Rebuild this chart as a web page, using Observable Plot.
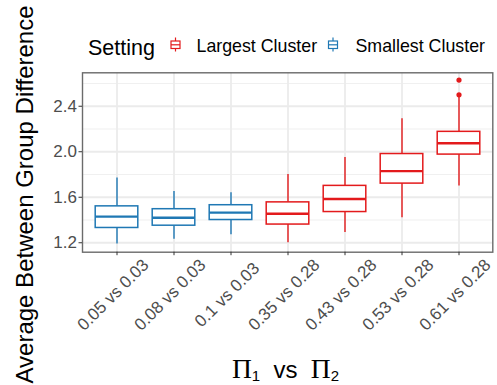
<!DOCTYPE html>
<html>
<head>
<meta charset="utf-8">
<script src="https://cdn.jsdelivr.net/npm/d3@7"></script>
<script src="https://cdn.jsdelivr.net/npm/@observablehq/plot@0.6"></script>
<style>
  html, body { margin: 0; padding: 0; background: white; }
  body { width: 497px; height: 385px; overflow: hidden; font-family: "Liberation Sans", Arial, sans-serif; }
  .block { display: block; }
  #chart { position: relative; z-index: 1; }
</style>
</head>
<body>
<div id="legend"></div>
<div id="chart"></div>
<div id="xtitle"></div>
<script>
// Comparisons of cluster proportions (Π1 vs Π2) and which cluster setting each belongs to
const comparisons = ["0.05 vs 0.03", "0.08 vs 0.03", "0.1 vs 0.03", "0.35 vs 0.28", "0.43 vs 0.28", "0.53 vs 0.28", "0.61 vs 0.28"];
const settings = ["Smallest Cluster", "Smallest Cluster", "Smallest Cluster", "Largest Cluster", "Largest Cluster", "Largest Cluster", "Largest Cluster"];

// Box-plot summaries of the average between-group difference
const lowerWhisker = [1.19, 1.23, 1.27, 1.20, 1.29, 1.42, 1.70];
const q1 = [1.33, 1.35, 1.40, 1.36, 1.47, 1.72, 1.975];
const median = [1.43, 1.42, 1.465, 1.455, 1.585, 1.83, 2.075];
const q3 = [1.52, 1.495, 1.53, 1.555, 1.70, 1.98, 2.175];
const upperWhisker = [1.77, 1.65, 1.64, 1.80, 1.95, 2.29, 2.48];

// Points beyond the whiskers
const outlierComparisons = ["0.61 vs 0.28", "0.61 vs 0.28"];
const outlierValues = [2.50, 2.63];

// Axis ticks and grid
const yTicks = [1.2, 1.6, 2.0, 2.4];
const yMinor = [1.4, 1.8, 2.2, 2.6];

const settingOrder = ["Largest Cluster", "Smallest Cluster"];
const palette = ["#e31a1c", "#1f78b4"];

const boxes = comparisons.map((c, i) => ({
  comparison: c, setting: settings[i],
  lower: lowerWhisker[i], q1: q1[i], median: median[i], q3: q3[i], upper: upperWhisker[i]
}));
const outliers = outlierComparisons.map((c, i) => ({
  comparison: c, value: outlierValues[i],
  setting: settings[comparisons.indexOf(c)]
}));

const color = Plot.scale({color: {domain: settingOrder, range: palette}});
const font = "'Liberation Sans', Arial, sans-serif";

// Legend above the plot: title + box-glyph keys
(function legend() {
  const svg = d3.create("svg").attr("width", 497).attr("height", 60).attr("class", "block")
    .style("font-family", font);
  svg.append("text").attr("x", 88).attr("y", 54.5).attr("font-size", 21.5).attr("fill", "black").text("Setting");
  const keyX = [175.5, 333];
  const labelX = [196.5, 355.5];
  settingOrder.forEach((s, i) => {
    const g = svg.append("g").attr("stroke", color.apply(s)).attr("fill", "white").attr("stroke-width", 1.2);
    g.append("line").attr("x1", keyX[i]).attr("x2", keyX[i]).attr("y1", 37.5).attr("y2", 51.5);
    g.append("rect").attr("x", keyX[i] - 4.5).attr("y", 41).attr("width", 9).attr("height", 7.5);
    g.append("line").attr("x1", keyX[i] - 4.5).attr("x2", keyX[i] + 4.5).attr("y1", 44.8).attr("y2", 44.8);
    svg.append("text").attr("x", labelX[i]).attr("y", 51.8).attr("font-size", 17.8).attr("fill", "black").text(s);
  });
  document.getElementById("legend").append(svg.node());
})();

const yDomain = [1.117, 2.694];

const chart = Plot.plot({
  width: 497,
  height: 285,
  marginTop: 12.3,
  marginBottom: 93.3,
  marginLeft: 82,
  marginRight: 4.7,
  style: {fontFamily: font, overflow: "visible", background: "transparent"},
  x: {domain: comparisons, type: "band", paddingInner: 0, paddingOuter: 0.094, label: null},
  y: {domain: yDomain, label: null},
  color: {domain: settingOrder, range: palette},
  marks: [
    // panel background and grid
    Plot.frame({fill: "white"}),
    Plot.ruleY(yMinor, {stroke: "#f0f0f0", strokeWidth: 1.2}),
    Plot.ruleY(yTicks, {stroke: "#ebebeb", strokeWidth: 1.8}),
    Plot.ruleX(comparisons, {x: d => d, stroke: "#ebebeb", strokeWidth: 1.8}),
    // whiskers
    Plot.ruleX(boxes, {x: "comparison", y1: "lower", y2: "q1", stroke: "setting", strokeWidth: 1.4}),
    Plot.ruleX(boxes, {x: "comparison", y1: "q3", y2: "upper", stroke: "setting", strokeWidth: 1.4}),
    // boxes
    Plot.barY(boxes, {x: "comparison", y1: "q1", y2: "q3", fill: "white", stroke: "setting", strokeWidth: 1.5, insetLeft: 7.2, insetRight: 7.2}),
    // medians
    Plot.tickY(boxes, {x: "comparison", y: "median", stroke: "setting", strokeWidth: 2.4, insetLeft: 7.2, insetRight: 7.2}),
    // outliers
    Plot.dot(outliers, {x: "comparison", y: "value", fill: "setting", r: 2.6}),
    // panel border
    Plot.frame({stroke: "#6b6b6b", strokeWidth: 1.4}),
    // axes
    Plot.axisY({ticks: yTicks, tickFormat: d3.format(".1f"), tickSize: 3.5, tickPadding: 2, fontSize: 17, fill: "#4d4d4d", stroke: "#333", label: null}),
    Plot.axisX({tickSize: 3.5, tickFormat: () => "", stroke: "#333", label: null}),
    Plot.text(comparisons, {x: d => d, text: d => d, frameAnchor: "bottom", dy: 46.5, rotate: -45, textAnchor: "middle", fontSize: 17, fill: "#4d4d4d"}),
    // y-axis title
    Plot.text(["Average Between Group Difference"], {frameAnchor: "left", textAnchor: "middle", dx: -56.7, dy: 32, rotate: -90, fontSize: 24, fill: "black"})
  ]
});
document.getElementById("chart").append(chart);

// x-axis title below the plot: Π1 vs Π2
(function xTitle() {
  const svg = d3.create("svg").attr("width", 497).attr("height", 40).attr("class", "block")
    .style("font-family", font);
  const t = svg.append("text").attr("x", 285.5).attr("y", 33.3).attr("text-anchor", "middle").attr("fill", "black").attr("font-size", 24)
    .style("white-space", "pre");
  t.append("tspan").attr("font-family", "'Liberation Serif', 'Times New Roman', serif").attr("font-size", 27.5).text("Π");
  t.append("tspan").attr("font-size", 15).attr("dy", 2.4).text("1");
  t.append("tspan").attr("dy", -2.4).text("  vs  ");
  t.append("tspan").attr("font-family", "'Liberation Serif', 'Times New Roman', serif").attr("font-size", 27.5).text("Π");
  t.append("tspan").attr("font-size", 15).attr("dy", 2.4).text("2");
  document.getElementById("xtitle").append(svg.node());
})();
</script>
</body>
</html>
